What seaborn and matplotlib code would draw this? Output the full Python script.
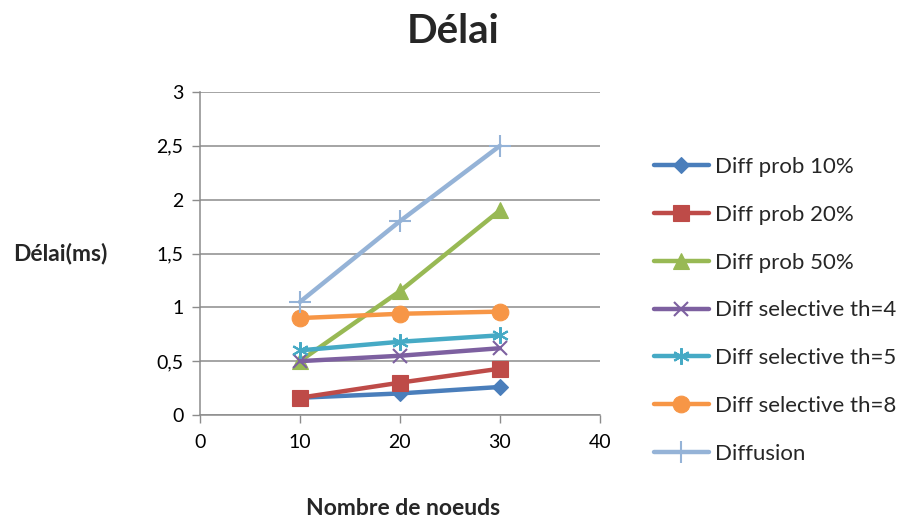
import matplotlib
matplotlib.use("Agg")
import matplotlib.pyplot as plt
from matplotlib.ticker import FuncFormatter, MultipleLocator
import seaborn as sns
import pandas as pd

nodes = [10, 20, 30]
series_names = [
    "Diff prob 10%",
    "Diff prob 20%",
    "Diff prob 50%",
    "Diff selective th=4",
    "Diff selective th=5",
    "Diff selective th=8",
    "Diffusion",
]
prob10 = [0.16, 0.20, 0.26]
prob20 = [0.16, 0.30, 0.43]
prob50 = [0.50, 1.15, 1.90]
sel4 = [0.50, 0.55, 0.62]
sel5 = [0.60, 0.68, 0.74]
sel8 = [0.90, 0.94, 0.96]
diffusion = [1.05, 1.80, 2.50]

all_values = [prob10, prob20, prob50, sel4, sel5, sel8, diffusion]

colors = ["#4A7EBB", "#BE4B48", "#98B954", "#7D60A0", "#46AAC5", "#F79646", "#95B3D7"]
markers = ["D", "s", "^", "x", (6, 2, 0), "o", "+"]
msizes = [8, 11, 11, 10, 12, 12, 16]

rows = []
for name, vals in zip(series_names, all_values):
    for n, v in zip(nodes, vals):
        rows.append({"Nombre de noeuds": n, "Délai": v, "Série": name})
df = pd.DataFrame(rows)

sns.set_theme(style="white")
plt.rcParams["font.family"] = ["Lato", "DejaVu Sans"]

fig = plt.figure(figsize=(9.13, 5.2), dpi=100)
ax = fig.add_axes([0.219, 0.202, 0.438, 0.621])

for name, c, m, ms in zip(series_names, colors, markers, msizes):
    sub = df[df["Série"] == name]
    thin = m in ("x", "+") or isinstance(m, tuple)
    sns.lineplot(data=sub, x="Nombre de noeuds", y="Délai", ax=ax, color=c,
                 marker=m, markersize=ms, linewidth=3.2, label=name,
                 markeredgecolor=c, markeredgewidth=1.5 if thin else 0.8)

ax.set_xlim(0, 40)
ax.set_ylim(0, 3)
ax.xaxis.set_major_locator(MultipleLocator(10))
ax.yaxis.set_major_locator(MultipleLocator(0.5))
fmt = lambda v, p: (f"{v:g}").replace(".", ",")
ax.yaxis.set_major_formatter(FuncFormatter(fmt))
ax.xaxis.set_major_formatter(FuncFormatter(fmt))
ax.grid(axis="y", color="#8c8c8c", linewidth=1.1)
ax.grid(axis="x", visible=False)
ax.set_axisbelow(True)
for s in ("top", "right"):
    ax.spines[s].set_visible(False)
for s in ("left", "bottom"):
    ax.spines[s].set_color("#8c8c8c")
    ax.spines[s].set_linewidth(1.1)
ax.tick_params(axis="both", which="major", length=6, width=1, color="#8c8c8c",
               direction="out", labelsize=14, labelcolor="black")
ax.tick_params(axis="x", bottom=True, pad=8)
ax.tick_params(axis="y", left=True, pad=6)

ax.set_xlabel("")
ax.set_ylabel("")
fig.text(0.442, 0.023, "Nombre de noeuds", fontsize=16.5, fontweight="bold",
         ha="center", va="center")
fig.text(0.014, 0.513, "Délai(ms)", fontsize=16.5, fontweight="bold",
         ha="left", va="center")
fig.text(0.496, 0.94, "Délai", fontsize=29, fontweight="bold",
         ha="center", va="center")

handles, labels = ax.get_legend_handles_labels()
ax.legend_.remove()
fig.legend(handles, labels, loc="upper left", bbox_to_anchor=(0.716, 0.698),
           frameon=False, fontsize=16, labelspacing=1.25, handlelength=2.5,
           handletextpad=0.25, borderaxespad=0, borderpad=0)

fig.savefig("out.png", dpi=100, facecolor="white")
